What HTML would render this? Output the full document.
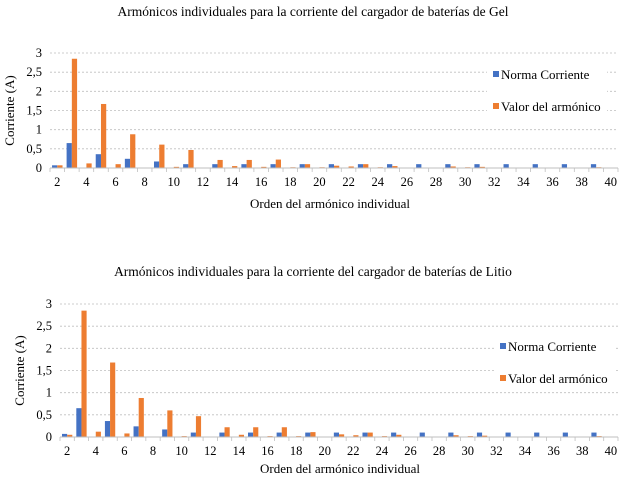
<!DOCTYPE html>
<html><head><meta charset="utf-8">
<style>
body{margin:0;background:#fff;}
svg{display:block;}
</style></head>
<body>
<svg id="c" width="624" height="480" viewBox="0 0 624 480"></svg>
<script>
const categories = [2,3,4,5,6,7,8,9,10,11,12,13,14,15,16,17,18,19,20,21,22,23,24,25,26,27,28,29,30,31,32,33,34,35,36,37,38,39,40];
const normaGel = [0.07,0.65,0,0.36,0,0.24,0,0.17,0,0.1,0,0.1,0,0.1,0,0.1,0,0.1,0,0.1,0,0.1,0,0.1,0,0.1,0,0.1,0,0.1,0,0.1,0,0.1,0,0.1,0,0.1,0];
const valorGel = [0.07,2.85,0.12,1.67,0.1,0.88,0,0.61,0.03,0.47,0,0.21,0.05,0.21,0.03,0.22,0.02,0.1,0.02,0.06,0.04,0.1,0.02,0.05,0.01,0.01,0.01,0.04,0.02,0.03,0.01,0,0.01,0,0,0,0,0.02,0];
const normaLi = [0.07,0.65,0,0.36,0,0.24,0,0.17,0,0.1,0,0.1,0,0.1,0,0.1,0,0.1,0,0.1,0,0.1,0,0.1,0,0.1,0,0.1,0,0.1,0,0.1,0,0.1,0,0.1,0,0.1,0];
const valorLi = [0.05,2.85,0.12,1.68,0.08,0.88,0,0.6,0.02,0.47,0,0.22,0.05,0.22,0.02,0.22,0.02,0.11,0.01,0.06,0.04,0.1,0.02,0.05,0.01,0.01,0.01,0.04,0.02,0.03,0.01,0,0.01,0,0,0,0,0.02,0];
const yTicks = [0,0.5,1,1.5,2,2.5,3];
const yTickLabels = ["0","0,5","1","1,5","2","2,5","3"];

const svg = document.getElementById('c');
const NS = 'http://www.w3.org/2000/svg';
const FF = '"Liberation Serif", "Times New Roman", Times, "DejaVu Serif", serif';
function mk(tag, attrs, parent){ const e=document.createElementNS(NS,tag); for(const k in attrs) e.setAttribute(k,attrs[k]); if(tag==='text'){ e.setAttribute('font-family',FF); e.style.fontFamily=FF; } (parent||svg).appendChild(e); return e; }

function chart(L, norma, valor, title, prefix){
  const g = mk('g',{});
  
  
  const n = categories.length;
  const step = (L.x1-L.x0)/n;
  const xs = i => L.x0 + step*(i+0.5);
  const ys = v => L.y0 - (v/3)*(L.y0-L.y3);
  const t = mk('text',{x:313,y:L.titleY,'text-anchor':'middle','font-size':13.5,fill:'#000'},g);
  t.textContent = title;
  
  
  yTicks.forEach((v,i)=>{
    if(v>0){
      const ln = mk('line',{x1:L.x0,x2:L.x1,y1:ys(v),y2:ys(v),stroke:'#bfbfbf','stroke-width':0.8,'stroke-dasharray':'2,2'},g);
      
      
    }
    const tl = mk('text',{x:L.x0-8,y:ys(v)+4,'text-anchor':'end','font-size':12.5,fill:'#000'},g);
    tl.textContent = yTickLabels[i];
    
    
  });
  const bw = step*0.36;
  categories.forEach((c,i)=>{
    const cx = xs(i);
    const b1 = mk('rect',{x:cx-bw,y:ys(norma[i]),width:bw,height:L.y0-ys(norma[i]),fill:'#4472c4'},g);
    
    
    const b2 = mk('rect',{x:cx,y:ys(valor[i]),width:bw,height:L.y0-ys(valor[i]),fill:'#ed7d31'},g);
    
    
    if(c%2===0){
      const tl = mk('text',{x:cx,y:L.y0+18,'text-anchor':'middle','font-size':12.5,fill:'#000'},g);
      tl.textContent = c;
      
      
    }
  });
  for(let i=0;i<=n;i+=1){
    const x=L.x0+step*i;
    mk('line',{x1:x,x2:x,y1:L.y0,y2:L.y0+4,stroke:'#bfbfbf','stroke-width':0.8},g);
  }
  mk('line',{x1:L.x0,x2:L.x1,y1:L.y0,y2:L.y0,stroke:'#bfbfbf','stroke-width':1},g);
  const yt = mk('text',{x:0,y:0,'text-anchor':'middle','font-size':13,fill:'#000',transform:`translate(${L.yTitleX},${(L.y0+L.y3)/2}) rotate(-90)`},g);
  yt.textContent = 'Corriente (A)';
  
  
  const xt = mk('text',{x:L.xTitleX,y:L.xTitleY,'text-anchor':'middle','font-size':13,fill:'#000'},g);
  xt.textContent = 'Orden del armónico individual';
  
  
  const lg = mk('g',{},g);
  
  
  mk('rect',{x:L.lx-6,y:L.ly-18,width:L.lw,height:58,fill:'#fff'},lg);
  [['Norma Corriente','#4472c4'],['Valor del armónico','#ed7d31']].forEach((e,i)=>{
    mk('rect',{x:L.lx,y:L.ly+i*32-8,width:6,height:6,fill:e[1]},lg);
    const tx = mk('text',{x:L.lx+8,y:L.ly+i*32,'font-size':13,fill:'#000'},lg);
    tx.textContent = e[0];
    
    
  });
}

chart({x0:50,x1:618,y0:168,y3:53,titleY:16,yTitleX:14,xTitleX:330,xTitleY:208,lx:493,ly:79,lw:120},
  normaGel, valorGel, 'Armónicos individuales para la corriente del cargador de baterías de Gel','gel');
chart({x0:60,x1:618,y0:437,y3:304,titleY:276,yTitleX:24,xTitleX:340,xTitleY:473,lx:500,ly:351,lw:122},
  normaLi, valorLi, 'Armónicos individuales para la corriente del cargador de baterías de Litio','litio');
</script>
</body></html>
